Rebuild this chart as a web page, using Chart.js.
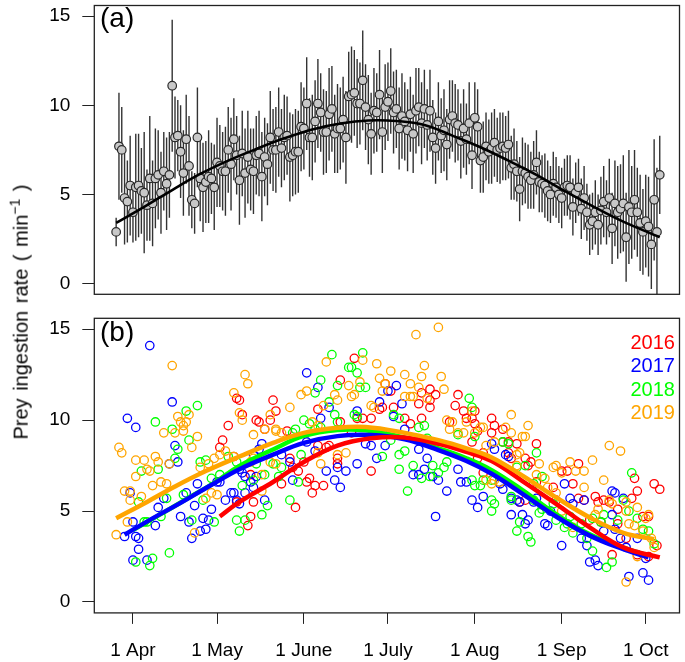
<!DOCTYPE html>
<html>
<head>
<meta charset="utf-8">
<script src="https://cdn.jsdelivr.net/npm/chart.js@4.4.0/dist/chart.umd.min.js"></script>
<style>
  html, body { margin: 0; padding: 0; background: #fff; }
  #wrap { position: relative; width: 685px; height: 662px; font-family: "Liberation Sans", Arial, sans-serif; color: #000; }
  canvas { position: absolute; left: 0; }
  #chartA { top: 0; }
  #chartB { top: 300px; }
  .panel { position: absolute; left: 100px; font-size: 28px; line-height: 1; }
  .year { position: absolute; right: 10px; font-size: 20px; line-height: 1; }
  #ylab { position: absolute; left: 19px; top: 312px; transform: translate(-50%, -50%) rotate(-90deg);
          white-space: nowrap; font-size: 20px; line-height: 1; word-spacing: 2px; }
  #ylab sup { font-size: 14px; word-spacing: 0; }
</style>
</head>
<body>
<div id="wrap">
  <canvas id="chartA" width="685" height="300"></canvas>
  <canvas id="chartB" width="685" height="362"></canvas>
  <div class="panel" style="top:4px">(a)</div>
  <div class="panel" style="top:318px">(b)</div>
  <div class="year" style="top:332px;color:#ff0000">2016</div>
  <div class="year" style="top:355px;color:#0000ff">2017</div>
  <div class="year" style="top:379px;color:#00ff00">2018</div>
  <div class="year" style="top:402px;color:#ffa500">2019</div>
  <div id="ylab">Prey ingestion rate ( min<sup>&minus;1</sup> )</div>
</div>
<script>
// axis values
const xMin = 77.2, xMax = 286.05;          // day of year
const yMin = -0.6, yMax = 15.6;
const yTicks = [0, 5, 10, 15];
const monthDays = [91, 121, 152, 182, 213, 244, 274];
const monthLabels = ['1 Apr', '1 May', '1 June', '1 July', '1 Aug', '1 Sep', '1 Oct'];

// panel (a): daily means from day 85 on, with error half-widths
const firstDayA = 85;
const meanA = [
  2.9, 7.7, 7.5, 4.8, 4.6, 5.5, 4.0, 5.4, 5.5, 5.2,
  5.1, 4.4, 5.9, 4.5, 5.9, 6.1, 5.1, 6.3, 5.6, 6.1,
  11.1, 8.2, 8.3, 7.4, 6.2, 8.1, 6.6, 4.7, 4.5, 8.2,
  5.9, 5.4, 5.7, 6.0, 5.9, 5.4, 6.8, 6.6, 6.3, 6.3,
  7.5, 6.7, 8.1, 7.2, 5.8, 7.3, 6.2, 7.1, 6.4, 6.3,
  7.2, 7.3, 6.0, 7.1, 6.7, 8.2, 7.5, 7.5, 8.5, 7.6,
  8.2, 8.3, 7.1, 7.2, 7.4, 7.4, 8.8, 8.7, 10.1, 8.2,
  8.2, 9.1, 10.1, 9.6, 8.5, 8.5, 9.5, 9.8, 8.4, 8.7,
  8.7, 9.2, 8.2, 10.5, 10.6, 10.7, 10.1, 10.1, 11.4, 9.9,
  9.2, 8.4, 9.7, 9.6, 10.6, 8.5, 9.9, 10.2, 10.8, 9.6,
  9.8, 8.7, 9.4, 9.1, 8.6, 9.5, 8.4, 9.7, 9.9, 9.0,
  9.8, 8.9, 9.7, 8.2, 7.6, 9.1, 8.3, 8.6, 7.8, 9.2,
  9.4, 9.0, 8.9, 8.0, 8.7, 8.1, 9.0, 7.2, 9.3, 8.8,
  6.9, 7.1, 7.7, 7.4, 7.6, 7.9, 7.5, 7.6, 7.7, 7.6,
  7.8, 6.5, 6.7, 6.3, 5.3, 6.3, 6.2, 6.0, 5.8, 6.1,
  6.8, 5.7, 5.6, 5.5, 5.2, 5.0, 5.6, 5.4, 5.0, 4.8,
  5.4, 5.5, 5.4, 4.3, 5.1, 5.4, 4.2, 4.8, 4.0, 3.3,
  3.5, 4.0, 3.3, 4.1, 4.6, 4.0, 4.8, 3.1, 4.5, 4.0,
  4.2, 4.5, 2.6, 4.3, 4.0, 4.7, 4.0, 3.4, 2.9, 3.5,
  3.2, 2.2, 4.7, 2.9, 6.1
];
const errA = [
  0.8, 3.0, 2.4, 2.6, 2.3, 2.8, 1.7, 3.0, 2.9, 2.4,
  3.4, 2.0, 3.5, 2.4, 2.8, 2.5, 2.3, 2.2, 2.6, 2.4,
  3.7, 2.3, 2.0, 2.6, 2.4, 2.5, 2.8, 1.6, 1.7, 2.8,
  2.4, 2.5, 2.3, 2.6, 2.0, 2.4, 2.5, 2.3, 2.2, 2.5,
  2.4, 2.6, 2.3, 2.2, 2.5, 2.4, 2.5, 2.6, 2.3, 2.4,
  2.2, 2.4, 2.5, 2.2, 2.3, 2.6, 2.3, 2.4, 2.5, 2.2,
  2.4, 2.2, 2.5, 2.3, 2.4, 2.3, 2.5, 2.3, 2.6, 2.2,
  2.4, 2.3, 2.5, 2.2, 2.4, 2.3, 2.6, 2.4, 2.2, 2.5,
  2.3, 2.4, 2.6, 2.5, 2.7, 2.4, 2.5, 2.3, 2.8, 2.4,
  2.5, 2.3, 2.4, 2.2, 2.5, 2.3, 2.4, 2.2, 2.4, 2.3,
  2.2, 2.3, 2.4, 2.2, 2.3, 2.1, 2.2, 2.4, 2.2, 2.3,
  2.2, 2.0, 2.3, 2.1, 2.0, 2.2, 2.1, 2.3, 2.0, 2.2,
  2.0, 2.2, 2.0, 2.1, 2.2, 2.0, 2.3, 1.9, 2.0, 2.1,
  1.8, 2.0, 1.9, 1.8, 2.0, 1.9, 1.8, 2.0, 1.9, 1.8,
  1.9, 1.8, 2.0, 1.7, 1.8, 1.9, 1.7, 1.8, 1.6, 1.9,
  1.8, 1.7, 1.6, 1.8, 1.7, 1.6, 1.8, 1.7, 1.6, 1.7,
  1.6, 1.7, 1.8, 1.6, 1.7, 1.6, 1.7, 1.8, 1.6, 1.7,
  1.6, 1.8, 1.7, 1.9, 2.0, 1.8, 2.2, 2.0, 2.4, 2.6,
  2.5, 2.7, 2.5, 3.2, 2.6, 2.8, 2.5, 2.7, 2.4, 2.6,
  2.8, 2.5, 3.4, 3.6, 2.2
];
const fitDayA = [85, 95, 105, 115, 125, 135, 145, 155, 165, 175, 185, 195, 205, 215, 225, 235, 245, 255, 265, 279];
const fitValA = [3.4, 4.3, 5.25, 6.15, 6.9, 7.55, 8.15, 8.65, 8.98, 9.15, 9.12, 8.9, 8.3, 7.65, 6.9, 6.1, 5.2, 4.35, 3.55, 2.6];

// panel (b): [day, rate] per year
const pts2016 = [[122,8.5],[123,8.9],[125,9.7],[127,8.0],[128,11.2],[128,5.5],[129,11.1],[130,10.3],[132,4.2],[133,4.7],
  [133,7.0],[134,5.5],[135,10.0],[136,9.9],[138,9.5],[140,10.0],[141,11.1],[142,10.5],[144,6.5],[146,9.4],
  [147,7.9],[148,7.4],[149,5.2],[150,7.2],[152,7.7],[153,6.6],[154,6.8],[155,6.0],[156,6.4],[157,10.6],
  [157,8.6],[159,6.4],[160,8.5],[161,8.6],[164,7.6],[164,7.9],[165,12.2],[165,9.9],[169,9.3],[170,13.4],
  [171,10.1],[173,10.1],[176,10.1],[176,7.2],[179,10.6],[180,10.7],[181,12.0],[183,11.6],[184,10.7],[188,10.1],
  [190,9.8],[193,10.9],[194,10.1],[194,11.5],[197,11.7],[197,11.1],[197,10.7],[199,11.4],[204,9.9],[206,10.8],
  [207,11.4],[209,10.5],[210,10.1],[212,10.1],[213,10.5],[214,7.9],[213,9.8],[214,9.4],[219,10.1],[220,9.7],
  [223,9.5],[219,9.3],[223,8.8],[225,8.8],[228,8.7],[235,8.7],[233,7.7],[231,7.9],[226,7.9],[225,8.2],
  [216,7.1],[212,8.8],[216,8.2],[232,7.5],[235,6.6],[229,5.5],[231,5.6],[241,6.3],[242,5.6],[244,7.2],
  [246,7.2],[250,7.6],[248,6.5],[250,5.7],[252,5.6],[256,5.8],[257,5.5],[259,5.6],[261,5.5],[264,5.1],
  [269,5.7],[271,6.1],[270,6.8],[277,6.5],[279,6.2],[273,4.7],[275,4.7],[262,2.6],[271,2.6],[275,2.5],
  [278,3.1],[267,3.5],[264,4.3],[254,4.5],[258,4.4]];
const pts2017 = [[88,3.6],[89,10.1],[90,6.0],[91,4.4],[91,2.3],[92,9.6],[92,3.6],[93,3.5],[93,2.9],[96,2.3],
  [97,14.1],[99,4.2],[100,5.2],[102,5.7],[104,7.6],[105,11.0],[106,8.6],[107,7.7],[108,4.7],[110,6.0],
  [111,4.4],[112,3.5],[113,5.3],[114,6.5],[115,3.9],[116,4.6],[117,4.0],[118,4.5],[119,5.1],[121,6.6],
  [122,6.6],[124,5.6],[126,6.0],[127,6.0],[128,5.6],[129,7.3],[129,5.4],[130,7.1],[131,6.9],[131,6.0],
  [133,6.6],[134,8.1],[134,6.3],[135,6.9],[136,8.4],[137,8.7],[138,5.6],[144,8.1],[147,7.7],[148,6.7],
  [153,12.6],[153,8.8],[156,8.3],[157,11.8],[158,10.1],[160,7.2],[161,10.7],[163,6.7],[164,7.4],[165,6.3],
  [167,7.2],[171,10.5],[171,7.6],[174,8.7],[176,8.6],[178,7.9],[179,11.0],[180,9.3],[181,8.6],[182,11.6],
  [184,10.2],[185,11.9],[187,10.9],[188,9.5],[191,7.0],[193,8.4],[193,7.0],[195,7.3],[196,7.9],[198,6.9],
  [199,4.7],[200,6.7],[203,6.1],[207,7.3],[208,6.6],[210,6.6],[212,5.6],[214,5.2],[216,5.8],[219,8.7],
  [220,8.4],[224,8.1],[225,8.0],[226,4.8],[230,4.8],[232,4.5],[231,4.3],[229,5.5],[226,5.7],[228,5.6],
  [223,6.2],[222,6.5],[234,5.5],[235,5.7],[238,4.3],[239,4.2],[240,5.0],[245,6.5],[247,5.7],[252,5.6],
  [248,5.4],[251,3.5],[253,3.1],[244,3.1],[254,2.2],[256,2.3],[257,2.0],[262,6.1],[263,6.0],[266,5.7],
  [262,4.8],[263,4.0],[265,3.5],[267,3.0],[271,3.5],[274,2.4],[268,1.4],[273,1.6],[275,1.2],[259,3.9]];
const pts2018 = [[92,2.2],[93,5.5],[94,7.2],[95,4.4],[96,4.4],[97,2.0],[98,2.4],[99,9.9],[100,7.3],[101,4.7],
  [103,5.7],[104,2.7],[105,9.5],[106,7.9],[107,8.4],[109,5.9],[110,10.5],[111,8.9],[112,4.5],[114,10.8],
  [115,7.7],[116,5.6],[117,7.8],[119,6.8],[120,4.4],[122,7.0],[125,8.0],[128,7.7],[128,4.5],[129,3.9],
  [130,6.4],[131,4.5],[134,6.7],[135,7.6],[137,4.8],[138,7.0],[139,5.3],[141,7.6],[143,6.9],[144,7.4],
  [147,5.6],[148,9.3],[149,9.5],[150,6.6],[151,8.1],[152,10.0],[154,9.8],[156,11.5],[156,9.5],[158,12.2],
  [158,9.6],[161,11.0],[162,13.6],[163,10.3],[164,11.9],[164,9.9],[168,12.9],[169,12.9],[170,10.3],[171,12.6],
  [171,10.2],[172,11.8],[173,13.7],[174,11.8],[180,8.0],[183,8.9],[184,10.3],[186,10.1],[186,8.1],[186,7.3],
  [188,8.3],[189,6.1],[191,7.5],[193,9.6],[194,6.8],[195,9.7],[196,9.0],[197,6.9],[198,7.5],[200,7.1],
  [202,7.4],[203,7.7],[211,11.2],[212,10.7],[212,6.7],[213,6.4],[207,9.2],[213,9.1],[215,6.4],[216,6.7],
  [219,6.7],[220,5.4],[219,5.0],[219,5.6],[226,5.6],[226,5.8],[228,3.9],[229,4.4],[232,3.6],[233,3.3],
  [235,8.2],[234,5.6],[237,5.1],[236,4.9],[241,5.4],[242,4.5],[245,4.1],[246,4.3],[247,4.7],[248,3.8],
  [251,4.3],[253,3.5],[255,2.8],[258,4.4],[259,4.8],[260,1.9],[262,2.2],[264,4.5],[266,5.6],[269,7.1],
  [271,4.6],[273,4.0],[275,3.9],[277,3.2],[237,6.9],[223,8.8],[225,8.7],[228,7.4],[231,7.5],[234,6.5],
  [268,5.0],[255,4.6]];
const pts2019 = [[85,3.7],[86,8.5],[87,8.2],[88,6.1],[89,4.4],[90,6.1],[90,5.6],[92,7.8],[92,6.9],[94,5.8],
  [95,7.8],[96,7.3],[97,7.2],[98,6.4],[99,8.0],[100,7.7],[101,6.6],[102,9.3],[103,6.5],[104,7.6],
  [105,13.0],[106,9.3],[107,10.2],[108,9.9],[109,9.7],[109,9.4],[110,9.9],[111,10.3],[112,8.5],[113,3.8],
  [114,9.1],[115,7.4],[117,5.7],[118,7.6],[119,6.0],[120,7.9],[121,5.9],[122,8.1],[124,8.3],[127,11.5],
  [127,8.0],[129,10.4],[130,10.0],[131,12.5],[132,12.0],[133,7.7],[134,9.2],[134,7.9],[137,7.0],[137,6.1],
  [138,9.5],[140,10.3],[140,7.7],[142,9.5],[142,9.4],[142,7.6],[144,9.3],[147,10.7],[151,11.4],[153,11.6],
  [155,9.9],[157,9.7],[157,8.2],[158,7.6],[159,10.8],[160,13.2],[163,11.4],[164,11.1],[164,8.1],[167,8.2],
  [168,11.9],[169,11.3],[170,11.4],[172,12.1],[173,13.3],[176,10.8],[177,10.7],[178,13.1],[179,12.3],[180,11.6],
  [181,12.0],[183,12.7],[188,12.5],[188,11.3],[190,12.0],[190,11.3],[191,11.3],[192,14.7],[193,11.8],[194,12.4],
  [195,13.0],[196,11.2],[200,15.1],[201,12.4],[202,11.7],[203,10.0],[204,9.5],[205,9.9],[207,9.3],[212,10.5],
  [213,9.3],[210,9.9],[209,9.3],[215,9.6],[216,9.6],[217,8.6],[220,8.8],[224,9.6],[226,9.3],[226,10.3],
  [230,9.1],[231,9.1],[232,9.7],[228,8.1],[229,8.2],[228,7.5],[235,7.0],[236,7.6],[238,6.8],[241,7.4],
  [242,7.5],[244,7.1],[247,7.7],[249,7.2],[252,7.2],[255,7.8],[261,8.6],[265,8.3],[219,6.5],[217,6.7],
  [220,6.7],[222,6.6],[239,6.3],[242,6.0],[252,6.3],[257,5.1],[259,6.7],[261,5.6],[267,5.0],[268,4.3],
  [270,4.2],[271,5.2],[274,4.6],[275,4.8],[267,5.5],[273,3.9],[276,3.5],[277,3.0],[271,2.5],[267,1.1],
  [256,4.8],[244,5.0],[248,4.1],[262,5.4]];

// fitted seasonal curves per year: [day, rate]
const fit2016 = [[122,4.7],[129,5.5],[141,6.6],[152,7.7],[164,8.6],[176,9.0],[188,9.05],[200,8.7],[210,8.25],[219,7.75],[230,6.65],[242,5.4],[254,4.1],[266,3.0],[279,2.45]];
const fit2017 = [[88,3.7],[98,4.6],[108,5.45],[118,6.35],[129,7.3],[141,8.1],[152,8.75],[164,9.12],[176,9.18],[188,8.95],[200,8.35],[210,7.75],[219,7.05],[230,5.95],[242,4.7],[254,3.65],[266,2.9],[275,2.45]];
const fit2018 = [[91,3.95],[100,4.75],[110,5.65],[120,6.55],[129,7.48],[141,8.39],[152,9.13],[164,9.46],[174,9.44],[188,9.03],[200,8.45],[210,7.9],[219,7.25],[230,6.15],[242,4.83],[254,3.72],[266,2.99],[275,2.54]];
const fit2019 = [[85,4.6],[96,5.5],[106,6.35],[117,7.2],[129,8.0],[141,8.75],[152,9.3],[164,9.58],[174,9.62],[188,9.3],[200,8.9],[210,8.45],[219,7.95],[230,6.95],[242,5.75],[254,4.65],[266,3.8],[277,3.45]];

const yearColors = { 2016: '#ff0000', 2017: '#0000ff', 2018: '#00ff00', 2019: '#ffa500' };

Chart.defaults.font.family = '"Liberation Sans", Arial, sans-serif';
Chart.defaults.color = '#000';

const framePlugin = {
  id: 'frame',
  afterDraw(chart) {
    const { ctx, chartArea: a } = chart;
    ctx.save();
    ctx.strokeStyle = '#222';
    ctx.lineWidth = 1.3;
    ctx.strokeRect(a.left, a.top, a.right - a.left, a.bottom - a.top);
    ctx.restore();
  }
};

function yAxis() {
  return {
    type: 'linear', min: yMin, max: yMax,
    afterBuildTicks: s => { s.ticks = yTicks.map(v => ({ value: v })); },
    afterFit: s => { s.width = 94.3; s.paddingTop = 0; s.paddingBottom = 0; },
    ticks: { color: '#000', font: { size: 19 }, padding: 12 },
    grid: { drawOnChartArea: false, drawTicks: true, tickLength: 12, color: '#222', lineWidth: 1 },
    border: { display: false }
  };
}

const pair = p => ({ x: p[0], y: p[1] });

// panel (a)
const barData = [];
meanA.forEach((v, i) => {
  const d = firstDayA + i;
  barData.push({ x: d, y: v - errA[i] }, { x: d, y: v + errA[i] }, { x: d, y: null });
});

new Chart(document.getElementById('chartA'), {
  type: 'scatter',
  data: {
    datasets: [
      { type: 'line', data: fitDayA.map((d, i) => ({ x: d, y: fitValA[i] })), borderColor: '#000', borderWidth: 2.6,
        pointRadius: 0, tension: 0.4, showLine: true, order: 0 },
      { data: meanA.map((v, i) => ({ x: firstDayA + i, y: v })), pointRadius: 4.3, pointBackgroundColor: '#c8c8c8',
        pointBorderColor: '#2a2a2a', pointBorderWidth: 1.2, order: 1 },
      { type: 'line', data: barData, borderColor: '#333', borderWidth: 1.4, pointRadius: 0, spanGaps: false,
        showLine: true, order: 2 }
    ]
  },
  options: {
    responsive: false, animation: false, events: [],
    layout: { padding: { left: 0, right: 1.7, top: 0.5, bottom: 5.7 } },
    plugins: { legend: { display: false }, tooltip: { enabled: false } },
    scales: {
      x: { type: 'linear', display: false, min: xMin, max: xMax },
      y: yAxis()
    }
  },
  plugins: [framePlugin]
});

// panel (b): orange drawn on top, then red, blue, green
const years = [2016, 2017, 2018, 2019];
const lineOrder = { 2019: 0, 2016: 1, 2017: 2, 2018: 3 };
const ptsByYear = { 2016: pts2016, 2017: pts2017, 2018: pts2018, 2019: pts2019 };
const fitByYear = { 2016: fit2016, 2017: fit2017, 2018: fit2018, 2019: fit2019 };
const dsB = [];
years.forEach(yr => {
  dsB.push({ type: 'line', data: fitByYear[yr].map(pair), borderColor: yearColors[yr], borderWidth: 4.5,
    pointRadius: 0, tension: 0.4, showLine: true, order: lineOrder[yr] });
});
years.forEach((yr, k) => {
  dsB.push({ data: ptsByYear[yr].map(pair), pointRadius: 4.2, pointBackgroundColor: 'rgba(0,0,0,0)',
    pointBorderColor: yearColors[yr], pointBorderWidth: 1.3, order: 20 - k });
});

new Chart(document.getElementById('chartB'), {
  type: 'scatter',
  data: { datasets: dsB },
  options: {
    responsive: false, animation: false, events: [],
    layout: { padding: { left: 0, right: 1.7, top: 18.3, bottom: 0 } },
    plugins: { legend: { display: false }, tooltip: { enabled: false } },
    scales: {
      x: {
        type: 'linear', min: xMin, max: xMax, offset: false,
        afterBuildTicks: s => { s.ticks = monthDays.map(v => ({ value: v })); },
        afterFit: s => { s.height = 49.1; s.paddingLeft = 0; s.paddingRight = 0; },
        ticks: { color: '#000', font: { size: 19 }, padding: 15, maxRotation: 0, autoSkip: false,
          callback: (v, i) => monthLabels[i] },
        grid: { drawOnChartArea: false, drawTicks: true, tickLength: 11, color: '#222', lineWidth: 1, offset: false },
        border: { display: false }
      },
      y: yAxis()
    }
  },
  plugins: [framePlugin]
});
</script>
</body>
</html>
